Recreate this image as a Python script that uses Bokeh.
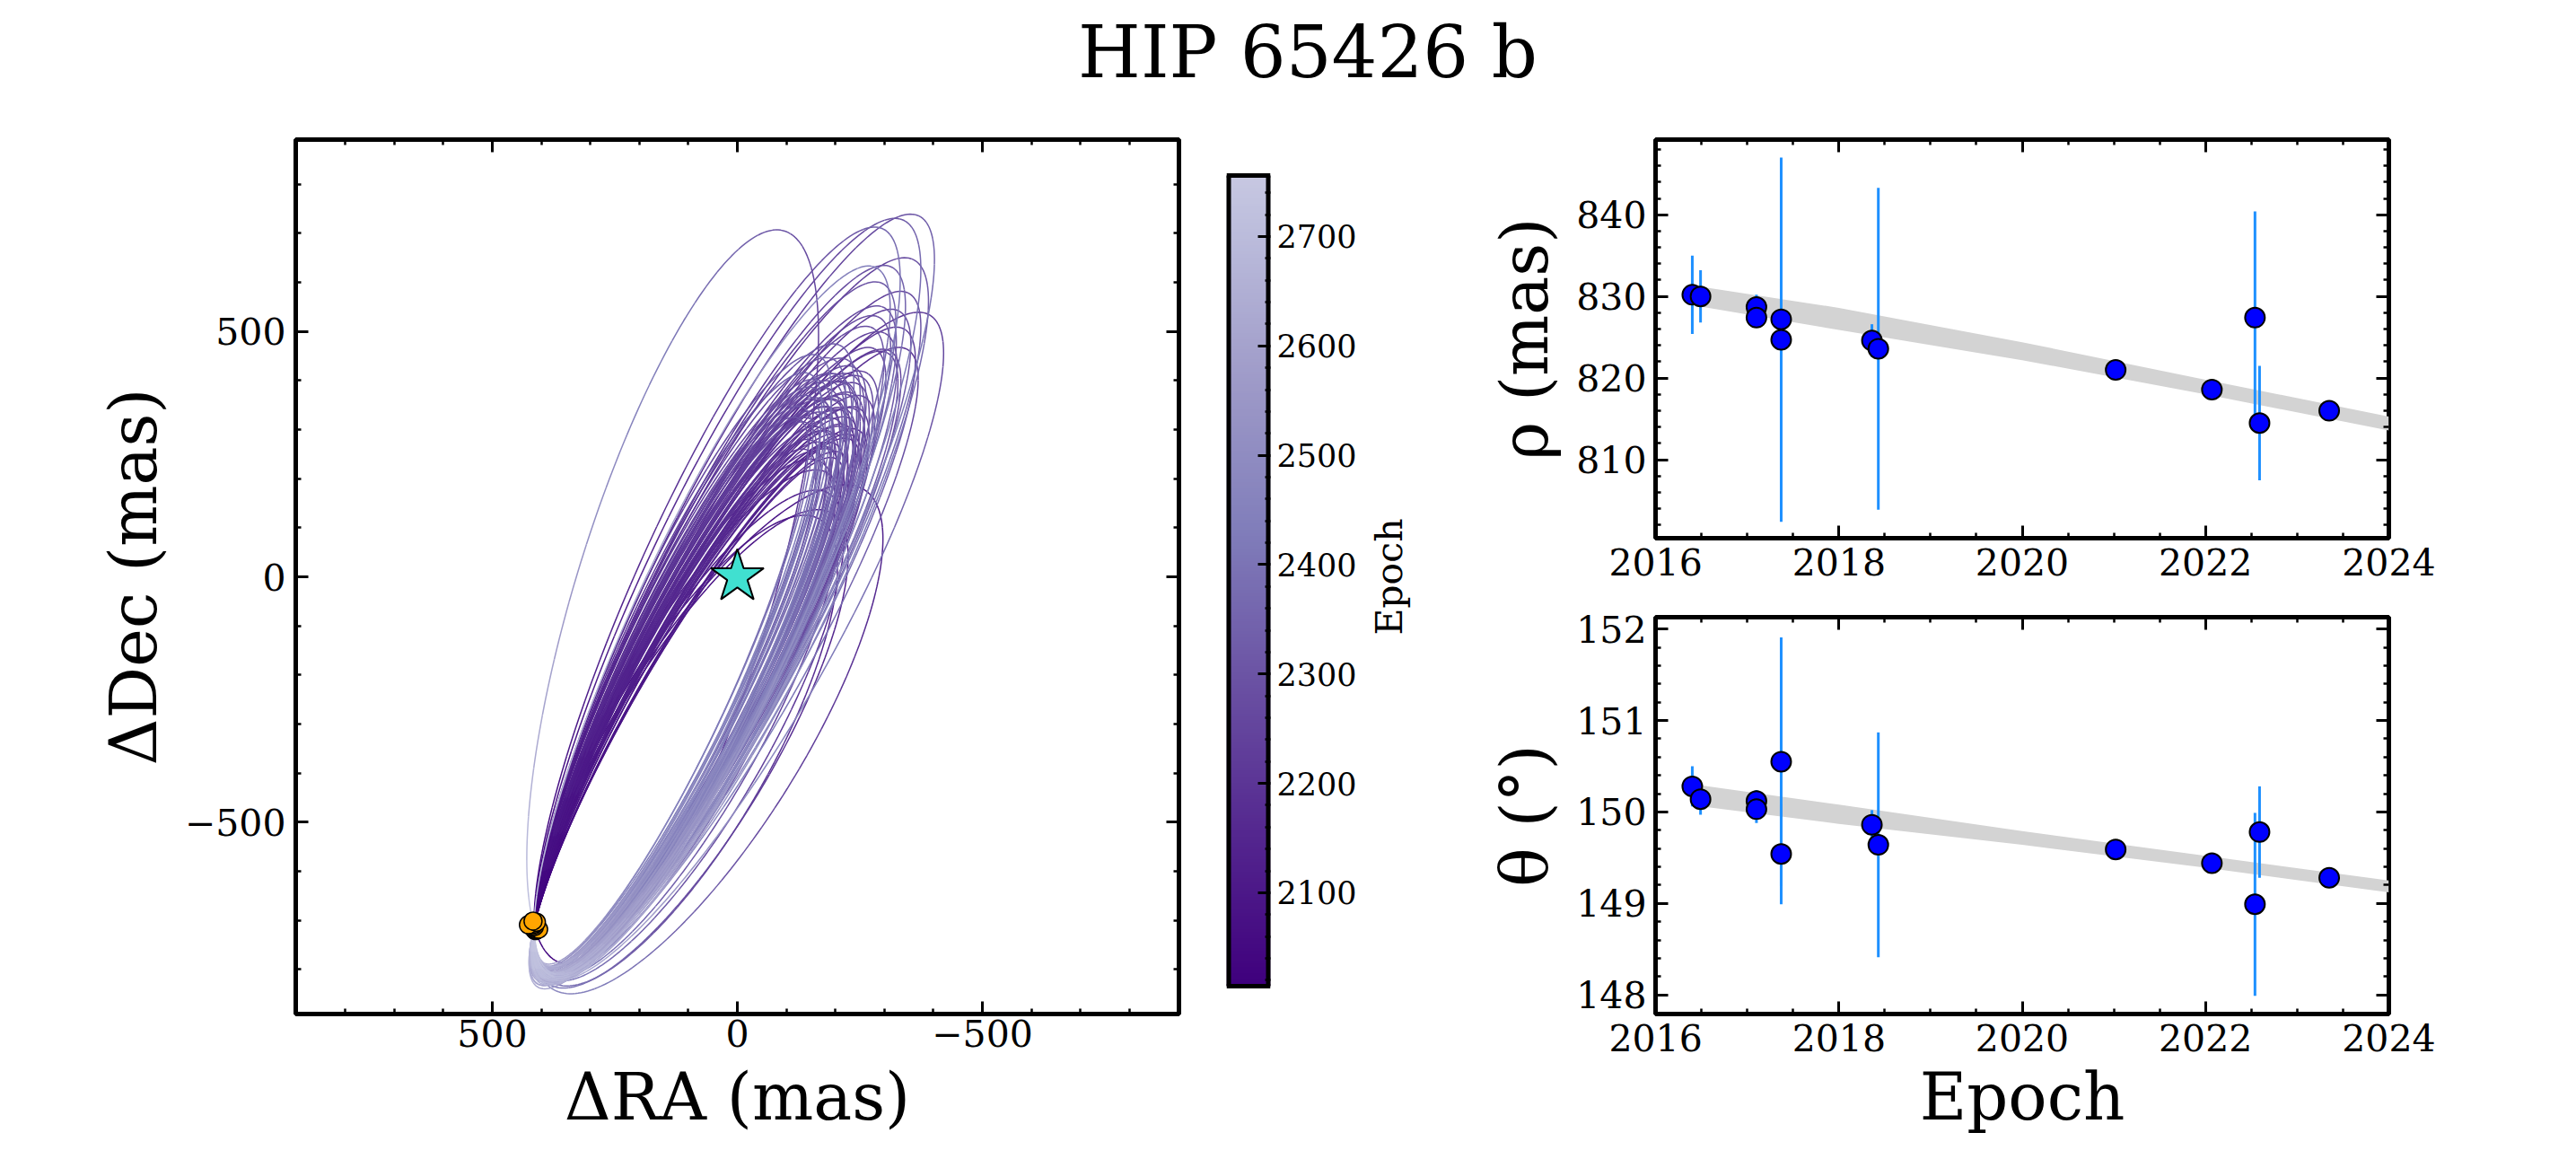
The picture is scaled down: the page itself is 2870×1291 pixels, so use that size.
import numpy as np
from bokeh.plotting import figure
from bokeh.layouts import row, column
from bokeh.models import (Range1d, LinearAxis, SingleIntervalTicker, FixedTicker, Div,
                          ColumnDataSource, LinearColorMapper, CustomJSTickFormatter)
from bokeh.embed import file_html
from bokeh.resources import INLINE

TITLE = "HIP 65426 b"

# ---------------- astrometry ----------------
epochs  = [2016.40, 2016.49, 2017.10, 2017.10, 2017.37, 2017.37, 2018.36,
           2018.43, 2021.02, 2022.07, 2022.54, 2022.59, 2023.35]
sep     = [830.2, 830.0, 828.7, 827.4, 827.2, 824.7, 824.6,
           823.6, 821.0, 818.6, 827.4, 814.5, 816.0]
sep_err = [4.8, 3.2, 1.5, 1.0, 0.8, 22.3, 2.0,
           19.7, 0.6, 0.6, 13.0, 7.0, 0.6]
pa      = [150.28, 150.14, 150.12, 150.03, 149.54, 150.55, 149.86,
           149.64, 149.59, 149.44, 148.99, 149.78, 149.28]
pa_err  = [0.22, 0.17, 0.12, 0.15, 0.55, 1.36, 0.16,
           1.23, 0.05, 0.05, 1.00, 0.50, 0.05]

# model envelope (grey band)
band_epoch  = [2016.42, 2018.0, 2020.0, 2022.0, 2024.0]
sep_band_hi = [831.3, 828.6, 824.4, 819.8, 815.3]
sep_band_lo = [828.9, 825.9, 822.2, 818.0, 813.6]
pa_band_hi  = [150.30, 150.08, 149.79, 149.52, 149.25]
pa_band_lo  = [150.07, 149.87, 149.64, 149.39, 149.12]

# ---------------- orbit sample (projected ellipses through the planet) ----------------
orbit_tilt_deg = [32, 30, 29, 31, 28, 30,
                  28, 27, 29, 26, 28, 25, 27, 29, 26, 30, 27, 28, 25, 29, 26, 27, 28, 30, 25, 27,
                  29, 26, 28, 24, 27, 29, 26, 28, 25, 30, 27, 28, 26, 29, 27, 25, 28, 30, 26, 27,
                  29, 24, 28, 27, 26,
                  27, 28, 26, 29, 25, 28, 27, 30, 26, 29, 27, 28, 25, 29,
                  28, 27, 29, 26, 28, 27, 30, 25, 29, 26, 29, 27, 28, 28,
                  26, 25, 17, 30, 24, 27]
orbit_a = [600, 570, 585, 560, 590, 545,
           640, 655, 630, 670, 615, 690, 625, 660, 645, 620, 680, 605, 660, 645, 700, 635, 675, 640, 625, 665,
           610, 650, 690, 680, 600, 670, 630, 655, 705, 655, 645, 620, 685, 625, 690, 640, 660, 610, 615, 675,
           650, 660, 700, 610, 665,
           648, 668, 622, 680, 650, 630, 695, 645, 675, 615, 660, 685, 615, 640,
           740, 760, 730, 780, 770, 750, 745, 790, 725, 800, 760, 735, 790, 720,
           860, 850, 780, 780, 830, 820]
orbit_b = [190, 160, 155, 165, 150, 170,
           125, 130, 120, 135, 115, 140, 123, 130, 127, 115, 137, 113, 133, 125, 145, 120, 135, 123, 117, 131,
           115, 125, 141, 137, 111, 133, 121, 129, 147, 127, 125, 119, 139, 117, 143, 123, 131, 113, 115, 137,
           125, 130, 145, 113, 133,
           123, 131, 117, 135, 125, 119, 141, 121, 133, 115, 129, 137, 115, 123,
           148, 150, 145, 155, 152, 146, 150, 158, 142, 160, 150, 144, 156, 140,
           175, 180, 200, 175, 175, 172]
orbit_phase = [0.55, 0.52, 0.50, 0.56, 0.49, 0.55,
               0.50, 0.49, 0.52, 0.48, 0.53, 0.47, 0.51, 0.50, 0.46, 0.55, 0.50, 0.54, 0.45, 0.53, 0.49, 0.47, 0.51, 0.56, 0.44, 0.52,
               0.50, 0.50, 0.48, 0.43, 0.53, 0.54, 0.47, 0.52, 0.46, 0.57, 0.49, 0.48, 0.51, 0.55, 0.50, 0.45, 0.53, 0.54, 0.46, 0.48,
               0.51, 0.44, 0.50, 0.52, 0.50,
               0.50, 0.49, 0.47, 0.52, 0.45, 0.53, 0.48, 0.56, 0.46, 0.54, 0.51, 0.50, 0.46, 0.52,
               0.46, 0.44, 0.48, 0.43, 0.47, 0.45, 0.50, 0.42, 0.47, 0.43, 0.49, 0.44, 0.46, 0.46,
               0.42, 0.43, 0.38, 0.45, 0.42, 0.44]
orbit_period = [540, 500, 520, 480, 560, 470,
                690, 700, 670, 715, 650, 725, 665, 705, 690, 640, 720, 635, 700, 680, 735, 675, 715, 670, 660, 705,
                645, 690, 725, 715, 620, 710, 665, 695, 735, 685, 690, 655, 720, 650, 730, 680, 700, 630, 645, 715,
                690, 700, 735, 640, 705,
                700, 715, 660, 725, 690, 665, 735, 680, 710, 650, 705, 728, 640, 685,
                728, 732, 722, 736, 734, 726, 724, 738, 718, 739, 730, 720, 737, 715,
                741.2, 738, 736, 733, 737, 734]
# +1: planet first moves north along the eastern side; -1: first moves south
orbit_sense = [1] * 72 + [-1] + [1] * 8 + [-1] + [1] * 3

epoch_start = 2014.6
epoch_end = 2755.8
cbar_ticks = [2100, 2200, 2300, 2400, 2500, 2600, 2700]

FONT = "DejaVu Serif"

# ---------------- colour map (truncated Purples, reversed) ----------------
purples = ["#fcfbfd", "#efedf5", "#dadaeb", "#bcbddc", "#9e9ac8",
           "#807dba", "#6a51a3", "#54278f", "#3f007d"]
anc = np.array([[int(h[i:i + 2], 16) for i in (1, 3, 5)] for h in purples], dtype=float)
pos = np.linspace(0, 1, len(purples))
palette = []
for s in np.linspace(1.0, 0.33, 256):
    rgb = [int(round(np.interp(s, pos, anc[:, k]))) for k in range(3)]
    palette.append("#%02x%02x%02x" % tuple(rgb))
mapper = LinearColorMapper(palette=palette, low=epoch_start, high=epoch_end)

# ---------------- derived positions ----------------
sep_a = np.array(sep)
pa_r = np.radians(np.array(pa))
ra_pts = sep_a * np.sin(pa_r)
dec_pts = sep_a * np.cos(pa_r)
anchor = np.array([ra_pts.mean(), dec_pts.mean()])

xs, ys, ts = [], [], []
NPT = 240
CH = 6
for phi, a, b, al, P, sg in zip(orbit_tilt_deg, orbit_a, orbit_b, orbit_phase, orbit_period, orbit_sense):
    ph = np.radians(phi)
    u = np.array([-np.sin(ph), np.cos(ph)])
    w = np.array([np.cos(ph), np.sin(ph)])
    psi0 = np.pi - al
    C = anchor - a * np.cos(psi0) * u - b * np.sin(psi0) * w
    psi = psi0 - sg * np.linspace(0, 2 * np.pi, NPT + 1)
    x = C[0] + u[0] * a * np.cos(psi) + w[0] * b * np.sin(psi)
    y = C[1] + u[1] * a * np.cos(psi) + w[1] * b * np.sin(psi)
    dA = 0.5 * np.abs(x[:-1] * y[1:] - x[1:] * y[:-1])      # Kepler's 2nd law about the star
    cum = np.concatenate([[0.0], np.cumsum(dA)])
    t = epoch_start + P * cum / cum[-1]
    for k in range(NPT // CH):
        sl = slice(k * CH, k * CH + CH + 1)
        xs.append(x[sl].tolist())
        ys.append(y[sl].tolist())
        ts.append(float(t[sl].mean()))

order = np.argsort(ts, kind="stable")          # later (lighter) pieces drawn on top
orbit_src = ColumnDataSource(dict(xs=[xs[i] for i in order], ys=[ys[i] for i in order],
                                  t=[ts[i] for i in order]))

# ---------------- helpers ----------------
def style_axis(ax, ticker, label_px, standoff):
    ax.ticker = ticker
    ax.axis_line_color = None
    ax.major_tick_in = 14
    ax.major_tick_out = 0
    ax.minor_tick_in = 6
    ax.minor_tick_out = 0
    ax.major_tick_line_width = 3
    ax.minor_tick_line_width = 2.5
    ax.major_tick_line_color = "black"
    ax.minor_tick_line_color = "black"
    ax.major_label_text_font = FONT
    ax.major_label_text_font_size = f"{label_px}px"
    ax.major_label_text_color = "black"
    ax.major_label_standoff = standoff


def style_label(ax, text, standoff, size="72px"):
    ax.axis_label = text
    ax.axis_label_text_font = FONT
    ax.axis_label_text_font_size = size
    ax.axis_label_text_font_style = "normal"
    ax.axis_label_text_color = "black"
    ax.axis_label_standoff = standoff


def sit(interval, nminor):
    return SingleIntervalTicker(interval=interval, num_minor_ticks=nminor)


def add_blank_axes(p, xt, yt):
    top = LinearAxis(formatter=CustomJSTickFormatter(code="return ''"))
    style_axis(top, xt, 10, 0)
    p.add_layout(top, "above")
    rgt = LinearAxis(formatter=CustomJSTickFormatter(code="return ''"))
    style_axis(rgt, yt, 10, 0)
    p.add_layout(rgt, "right")


def base_fig(**kw):
    p = figure(toolbar_location=None, output_backend="svg", title=None, **kw)
    p.grid.visible = False
    p.outline_line_color = "black"
    p.outline_line_width = 5
    p.background_fill_color = "white"
    p.border_fill_color = "white"
    return p

# ---------------- title ----------------
title_html = ('<div style="position:relative;width:2862px;height:100px;">'
              '<div style="position:absolute;left:52px;top:19px;width:2810px;text-align:center;'
              "font-family:'DejaVu Serif';font-size:80px;line-height:80px;white-space:nowrap;"
              'color:black;">' + TITLE + '</div></div>')
pTitle = Div(text=title_html, width=2862, height=100, margin=(0, 0, 0, 0))

# ---------------- orbit panel ----------------
pL = base_fig(frame_width=984, frame_height=974,
              x_range=Range1d(901, -901), y_range=Range1d(-891, 891),
              min_border_left=329, min_border_right=25, min_border_top=55, min_border_bottom=150)
pL.multi_line(xs="xs", ys="ys", source=orbit_src,
              line_color={"field": "t", "transform": mapper}, line_width=1.5)
pL.scatter(ra_pts, dec_pts, size=20, fill_color="#ffa500", line_color="black", line_width=1.5)
pL.scatter([0], [0], marker="star", size=62, fill_color="#40e0d0", line_color="black", line_width=2)
neg = {-500: "\u2212500"}
style_axis(pL.below[0], sit(500, 5), 41, 6)
style_axis(pL.left[0], sit(500, 5), 41, 11)
pL.below[0].major_label_overrides = neg
pL.left[0].major_label_overrides = neg
style_label(pL.below[0], "\u0394RA (mas)", 11)
style_label(pL.left[0], "\u0394Dec (mas)", 12)
add_blank_axes(pL, sit(500, 5), sit(500, 5))

# ---------------- colour bar (frame spans the same rows as the orbit panel) ----------------
px_per_yr = 903.0 / (epoch_end - epoch_start)
cb_lo = epoch_start - 31.0 / px_per_yr
cb_hi = epoch_end + 40.0 / px_per_yr
pC = figure(toolbar_location=None, output_backend="svg", title=None,
            frame_width=49, frame_height=974, x_range=Range1d(0, 1), y_range=Range1d(cb_lo, cb_hi),
            x_axis_location=None, y_axis_location="right",
            min_border_left=28, min_border_right=105, min_border_top=55, min_border_bottom=150)
pC.grid.visible = False
pC.outline_line_color = None
grad = np.linspace(epoch_start, epoch_end, 256).reshape(256, 1)
pC.image(image=[grad], x=0, y=epoch_start, dw=1, dh=epoch_end - epoch_start, color_mapper=mapper)
pC.segment(x0=[0, 0], y0=[epoch_start, epoch_end], x1=[1, 1], y1=[epoch_start, epoch_end],
           line_color="black", line_width=5)
pC.segment(x0=[0, 1], y0=[epoch_start, epoch_start], x1=[0, 1], y1=[epoch_end, epoch_end],
           line_color="black", line_width=10)
minor_cb = [v for v in range(2020, 2760, 20) if v not in cbar_ticks]
style_axis(pC.right[0], FixedTicker(ticks=cbar_ticks, minor_ticks=minor_cb), 35, 7)

# colour-bar label: carried by the left axis of a narrow, empty panel
pE = figure(toolbar_location=None, output_backend="svg", title=None,
            frame_width=13, frame_height=974, x_range=Range1d(0, 1), y_range=Range1d(0, 1),
            x_axis_location=None, y_axis_location="left",
            min_border_left=60, min_border_right=0, min_border_top=55, min_border_bottom=150)
pE.grid.visible = False
pE.outline_line_color = None
eax = pE.left[0]
eax.formatter = CustomJSTickFormatter(code="return ''")
eax.axis_line_color = None
eax.major_tick_line_color = None
eax.minor_tick_line_color = None
eax.major_tick_in = 0
eax.major_tick_out = 0
eax.minor_tick_in = 0
eax.minor_tick_out = 0
eax.major_label_standoff = 0
eax.major_label_text_font_size = "1px"
style_label(eax, "Epoch", 15, size="41px")

# ---------------- separation panel ----------------
pT = base_fig(frame_width=817, frame_height=444,
              x_range=Range1d(2015.999, 2024.001), y_range=Range1d(800.4, 849.2),
              min_border_left=245, min_border_right=200, min_border_top=55, min_border_bottom=62)
pT.varea(x=band_epoch, y1=sep_band_lo, y2=sep_band_hi, fill_color="#d3d3d3")
pT.segment(x0=epochs, y0=list(sep_a - np.array(sep_err)), x1=epochs, y1=list(sep_a + np.array(sep_err)),
           line_color="#1e90ff", line_width=3)
pT.scatter(epochs, sep, size=22, fill_color="#0000ff", line_color="black", line_width=2)
style_axis(pT.below[0], sit(2, 4), 41, 11)
style_axis(pT.left[0], sit(10, 5), 41, 10)
style_label(pT.left[0], "\u03c1 (mas)", 12)
add_blank_axes(pT, sit(2, 4), sit(10, 5))

# ---------------- position-angle panel ----------------
pB = base_fig(frame_width=817, frame_height=442,
              x_range=Range1d(2015.999, 2024.001), y_range=Range1d(147.79, 152.13),
              min_border_left=245, min_border_right=200, min_border_top=26, min_border_bottom=150)
pa_a = np.array(pa)
pB.varea(x=band_epoch, y1=pa_band_lo, y2=pa_band_hi, fill_color="#d3d3d3")
pB.segment(x0=epochs, y0=list(pa_a - np.array(pa_err)), x1=epochs, y1=list(pa_a + np.array(pa_err)),
           line_color="#1e90ff", line_width=3)
pB.scatter(epochs, pa, size=22, fill_color="#0000ff", line_color="black", line_width=2)
style_axis(pB.below[0], sit(2, 4), 41, 11)
style_axis(pB.left[0], sit(1, 5), 41, 10)
style_label(pB.left[0], "\u03b8 (\u00b0)", 12)
style_label(pB.below[0], "Epoch", 6)
add_blank_axes(pB, sit(2, 4), sit(1, 5))

layout = column(pTitle, row(pL, pC, pE, column(pT, pB)))
open("out.html", "w").write(file_html(layout, INLINE, title=TITLE))
